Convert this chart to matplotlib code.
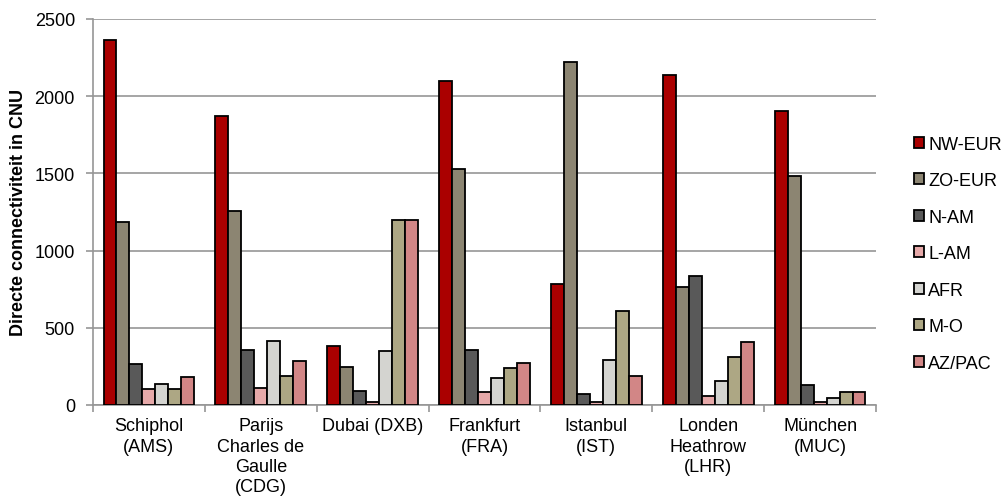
import numpy as np
import matplotlib
matplotlib.use("Agg")
import matplotlib.pyplot as plt

plt.rcParams['font.family'] = ['Liberation Sans', 'DejaVu Sans']

# airports (x categories)
airports = ["Schiphol\n(AMS)", "Parijs\nCharles de\nGaulle\n(CDG)", "Dubai (DXB)",
            "Frankfurt\n(FRA)", "Istanbul\n(IST)", "Londen\nHeathrow\n(LHR)", "München\n(MUC)"]

regions = ["NW-EUR", "ZO-EUR", "N-AM", "L-AM", "AFR", "M-O", "AZ/PAC"]
colors = ["#AA0000", "#8C8572", "#595959", "#E6A9A9", "#D4D4D0", "#ADA784", "#D28686"]

# directe connectiviteit per regio (CNU)
nw_eur = [2366, 1870, 384, 2100, 786, 2135, 1906]
zo_eur = [1187, 1254, 244, 1528, 2223, 766, 1485]
n_am = [266, 358, 93, 358, 71, 834, 130]
l_am = [104, 112, 21, 82, 17, 60, 17]
afr = [136, 415, 348, 173, 290, 155, 45]
m_o = [104, 190, 1198, 242, 607, 309, 82]
az_pac = [183, 283, 1198, 272, 190, 406, 86]

series = [nw_eur, zo_eur, n_am, l_am, afr, m_o, az_pac]

fig = plt.figure(figsize=(10.06, 5.02), dpi=100)
ax = fig.add_axes([93/1006, 96/502, 783/1006, 386/502])

x = np.arange(len(airports))
w = 0.116
for i, (vals, name, c) in enumerate(zip(series, regions, colors)):
    ax.bar(x + (i - 3) * w, vals, width=w, color=c, edgecolor="black",
           linewidth=1.3, label=name, zorder=3)

ax.set_xlim(-0.5, len(airports) - 0.5)
ax.set_ylim(0, 2500)
ax.set_yticks(np.arange(0, 2501, 500))
ax.yaxis.grid(True, color="#969696", linewidth=1.2, zorder=0)
ax.set_axisbelow(True)

for s in ["top", "right"]:
    ax.spines[s].set_visible(False)
for s in ["left", "bottom"]:
    ax.spines[s].set_color("#969696")
    ax.spines[s].set_linewidth(1.2)

ax.set_xticks(x)
ax.set_xticklabels(airports, fontsize=13, linespacing=1.25)
ax.tick_params(axis="x", length=0, pad=9)
ax.set_xticks(np.arange(-0.5, len(airports), 1), minor=True)
ax.tick_params(axis="x", which="minor", length=5, color="#969696", width=1.2)
ax.tick_params(axis="y", length=5, color="#969696", width=1.2, labelsize=13, pad=8)

ax.set_ylabel("Directe connectiviteit in CNU", fontsize=13, fontweight="bold")
ax.yaxis.set_label_coords(-0.084, 0.5)

fig.legend(loc="center left", bbox_to_anchor=(914/1006, 0.493), frameon=False,
           fontsize=13, handlelength=0.55, handleheight=0.55, handletextpad=0.25,
           labelspacing=1.08, borderpad=0, borderaxespad=0)

plt.savefig("out.png", dpi=100)
